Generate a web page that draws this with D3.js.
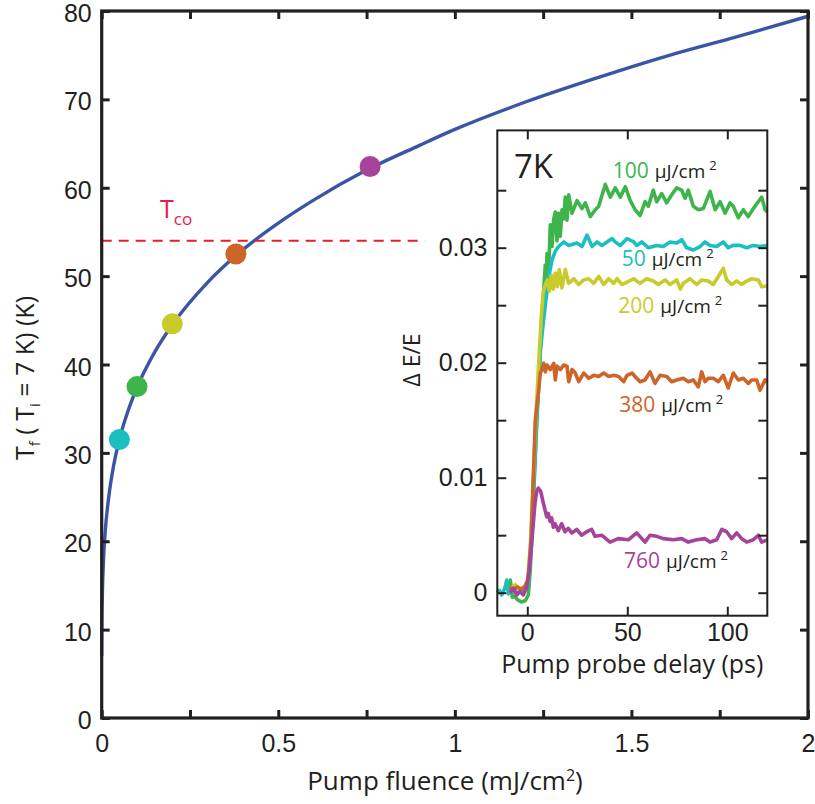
<!DOCTYPE html>
<html>
<head>
<meta charset="utf-8">
<script src="https://cdn.jsdelivr.net/npm/d3@7"></script>
<style>
  html, body { margin: 0; padding: 0; background: #fff; }
  svg { display: block; font-family: "Open Sans", "Noto Sans", sans-serif; }
</style>
</head>
<body>
<svg id="chart" width="815" height="804"></svg>
<script>
// ---- Main panel: final temperature vs pump fluence ----
const fluence = [0, 0.0005, 0.001, 0.002, 0.005, 0.01, 0.02, 0.03, 0.05, 0.075, 0.1, 0.15, 0.2,
                 0.3, 0.4, 0.5, 0.6, 0.75, 0.9, 1.0, 1.2, 1.4, 1.6, 1.8, 2.0];
const tFinal  = [7, 10.5, 12.2, 14.3, 17.8, 21.1, 25.0, 27.7, 31.5, 34.8, 37.4, 41.4, 44.5,
                 49.3, 53.0, 56.0, 58.6, 62.0, 64.8, 66.6, 69.7, 72.4, 74.9, 77.1, 79.4];

const markerFluence = [0.05, 0.1, 0.2, 0.38, 0.76];
const markerTf      = [31.5, 37.5, 44.6, 52.5, 62.4];
const seriesNames   = ["50", "100", "200", "380", "760"];
const seriesColors  = ["#1cbfc0", "#3db54a", "#c9cb2b", "#cd6529", "#a6449b"];

const tCrossover = 54;          // T_co
const tCrossoverEnd = 0.915;    // fluence where the dashed guide stops

const mainXTicks = [0, 0.25, 0.5, 0.75, 1, 1.25, 1.5, 1.75, 2];
const mainXTickLabels = ["0", "", "0.5", "", "1", "", "1.5", "", "2"];
const mainYTicks = [0, 10, 20, 30, 40, 50, 60, 70, 80];

// ---- Inset: transient ΔE/E vs delay (ps) ----
const trace50 = [[-15,0],[-14,0.0002],[-12.8,-0.0002],[-11.2,0.0004],[-10.3,0.0011],[-9.5,-0.0001],[-8.6,0.0001],[-7,0.0002],[-5,0],[-3,0.0002],[-1,0.0003],[0.5,0.0008],[2,0.004],[4,0.012],[5.5,0.018],[6.5,0.021],[8,0.0235],[9,0.025],[10.5,0.0272],[12.3,0.0289],[14,0.0297],[15.7,0.0301],[18.2,0.0305],[20.7,0.0302],[24.85,0.0304],[27.35,0.0301],[29.85,0.0311],[32.35,0.0301],[34.85,0.0305],[37.35,0.0302],[39.85,0.0305],[42.35,0.0308],[44,0.0305],[46.5,0.0302],[49.85,0.0308],[53.2,0.0305],[54.7,0.0302],[57.2,0.0305],[60.5,0.03],[64.7,0.0302],[68,0.0301],[71.35,0.0305],[74.7,0.0304],[77.2,0.0307],[79.7,0.03],[83,0.0298],[86.35,0.0301],[88.85,0.0305],[91.35,0.0302],[94.7,0.0301],[98,0.0305],[100.5,0.03],[103,0.0302],[106.35,0.0302],[109.7,0.03],[113,0.0302],[116.35,0.0301],[120,0.0302]];

const trace100 = [[-9,0.0003],[-8.5,0.0011],[-7.5,-0.0004],[-6,-0.0003],[-5,-0.0006],[-3,-0.0008],[-1,-0.0007],[0.5,-0.0002],[1.5,0.002],[3,0.008],[4.5,0.014],[6,0.019],[7,0.023],[8.2,0.0263],[9,0.0285],[9.5,0.027],[9.85,0.0295],[10.7,0.0281],[11.5,0.032],[12.35,0.0301],[13.2,0.0325],[14,0.0331],[14.85,0.0306],[15.7,0.033],[16.5,0.031],[17.35,0.0333],[18.2,0.0325],[19,0.0344],[19.85,0.0324],[20.7,0.0346],[22.35,0.033],[24.85,0.0341],[27.35,0.0334],[29,0.0339],[31.5,0.0327],[34,0.0333],[35.7,0.0336],[39,0.0355],[41.5,0.0344],[44,0.0352],[46.5,0.0344],[49,0.0353],[51.5,0.0341],[53.9,0.0333],[56.4,0.0328],[58.9,0.034],[60.5,0.0336],[63,0.035],[64.7,0.034],[67.2,0.0347],[69.7,0.0339],[72.2,0.0346],[74.7,0.0352],[77.2,0.035],[78.9,0.0343],[80.5,0.035],[83,0.0336],[85.5,0.0333],[88,0.0334],[91.4,0.0349],[93.9,0.0333],[96.4,0.034],[98.9,0.033],[101.4,0.0339],[103,0.0336],[105.5,0.0326],[108,0.0333],[110.5,0.0327],[113,0.0334],[115.5,0.034],[117.2,0.0344],[118.9,0.0333],[120,0.0331]];

const trace200 = [[-8,0.0004],[-6,0.0007],[-4,0.0003],[-2,0.0004],[0,0.0008],[1.5,0.004],[3,0.01],[4.5,0.016],[6,0.021],[7,0.024],[8,0.0262],[9,0.0268],[10,0.0272],[11,0.0262],[12,0.0276],[13,0.0264],[14,0.0278],[15,0.0266],[16,0.0281],[17.3,0.0265],[19,0.0281],[20.7,0.0269],[23.2,0.0273],[25.7,0.0268],[28.2,0.0272],[30.7,0.0273],[33.2,0.0269],[35.7,0.0275],[38.2,0.0268],[40.7,0.0273],[43.2,0.0269],[44.85,0.0273],[47.35,0.0268],[49.85,0.027],[53.2,0.0273],[56.35,0.0269],[59.7,0.0273],[63,0.0271],[65.5,0.0268],[68.85,0.0272],[71.35,0.0268],[74.7,0.0272],[76.5,0.0264],[78,0.0269],[81.35,0.0273],[84.7,0.0268],[87.2,0.0272],[90.5,0.0271],[93,0.0268],[95.5,0.0275],[98,0.0282],[99.7,0.0272],[102.2,0.0268],[104.7,0.0271],[107.2,0.0268],[109.7,0.0271],[112.2,0.0273],[115.5,0.0272],[117.2,0.0266],[120,0.0267]];

const trace380 = [[-9,0.0005],[-7,0.0002],[-5,0.0005],[-3,0.0003],[-1,0.0006],[0.5,0.0012],[2,0.005],[3,0.01],[4,0.015],[5.7,0.0176],[6.5,0.0191],[7.5,0.0195],[8.2,0.01995],[9,0.0192],[9.85,0.0198],[11.5,0.0194],[13.2,0.01995],[14,0.0185],[14.85,0.0197],[16.5,0.0194],[18.2,0.0198],[19.85,0.0197],[20.7,0.01835],[22.35,0.0194],[24,0.0191],[25.7,0.01835],[28.2,0.0191],[30.7,0.01865],[33.2,0.0189],[35.7,0.0188],[38.2,0.0191],[40.7,0.0188],[43.2,0.0189],[45.7,0.0188],[48.2,0.01835],[49.85,0.0189],[52.35,0.0191],[53.85,0.0188],[56.35,0.01835],[58.85,0.0185],[61.35,0.0192],[63.85,0.0182],[66.35,0.0189],[69.7,0.0188],[72.2,0.01835],[74.7,0.0185],[78,0.01865],[80.5,0.01835],[83,0.0185],[85.5,0.0179],[87.2,0.0192],[88.85,0.01835],[90.5,0.01865],[93,0.01865],[95.5,0.01835],[98,0.0189],[100.5,0.0178],[103,0.0191],[105.5,0.0185],[108,0.01865],[110.5,0.0182],[112.2,0.0185],[114.7,0.0185],[116.35,0.0176],[118.85,0.0185],[120,0.0183]];

const trace760 = [[-8.65,0],[-7,0.0004],[-5.3,-0.0002],[-3.65,0.0001],[-2,-0.0002],[-0.3,0.0005],[0.5,0.0014],[1.35,0.0026],[2.2,0.0043],[3,0.006],[3.85,0.0078],[4.7,0.0088],[5.5,0.0091],[6.7,0.0088],[8,0.0078],[8.85,0.0072],[9.7,0.0066],[10.5,0.0069],[11.35,0.0062],[12.2,0.0065],[13,0.0057],[13.85,0.006],[15.5,0.0054],[17.2,0.006],[18.85,0.0053],[20.5,0.0056],[22.2,0.0052],[24.7,0.0055],[27.2,0.005],[29.7,0.0053],[32.2,0.0055],[33.85,0.0049],[37.2,0.005],[41.35,0.0044],[45.5,0.0047],[50.5,0.0046],[54.7,0.0052],[58.85,0.0044],[61.35,0.005],[64.7,0.0049],[68,0.0047],[73,0.0046],[77.2,0.0047],[80.5,0.0044],[84.7,0.0046],[88.85,0.0047],[91.35,0.0044],[94.7,0.0046],[97.2,0.0055],[99.7,0.0053],[102.2,0.0047],[104.7,0.0052],[107.2,0.0047],[109.7,0.0044],[113,0.0046],[115.5,0.005],[117.2,0.0044],[120,0.0046]];

const insetXTicks = [0, 50, 100];
const insetYTicks = [0, 0.005, 0.01, 0.015, 0.02, 0.025, 0.03, 0.035];
const insetYTickLabels = ["0", "", "0.01", "", "0.02", "", "0.03", ""];

const INK = "#231f20";
const svg = d3.select("#chart");

// ---------------- main panel ----------------
const x = d3.scaleLinear().domain([0, 2]).range([101.7, 808]);
const y = d3.scaleLinear().domain([0, 80]).range([718, 11]);

const main = svg.append("g");

// curve
main.append("path")
  .datum(d3.zip(fluence, tFinal))
  .attr("fill", "none")
  .attr("stroke", "#3a55a5")
  .attr("stroke-width", 3.4)
  .attr("d", d3.line().x(d => x(d[0])).y(d => y(d[1])).curve(d3.curveMonotoneX));

// T_co guide
main.append("line")
  .attr("x1", x(0)).attr("x2", x(tCrossoverEnd))
  .attr("y1", y(tCrossover)).attr("y2", y(tCrossover))
  .attr("stroke", "#ec1c24").attr("stroke-width", 2)
  .attr("stroke-dasharray", "10,7");

const tco = main.append("text")
  .attr("x", 160).attr("y", 218)
  .attr("fill", "#ea1a4d")
  .style("font-size", "25px");
tco.append("tspan").text("T");
tco.append("tspan").attr("dy", 7).style("font-size", "17px").text("co");

// markers
main.selectAll("circle.pt")
  .data(d3.range(markerFluence.length))
  .join("circle")
  .attr("class", "pt")
  .attr("cx", i => x(markerFluence[i]))
  .attr("cy", i => y(markerTf[i]))
  .attr("r", 10.5)
  .attr("fill", i => seriesColors[i]);

// axes (ticks point inward)
function styleAxis(g, width) {
  g.select(".domain").remove();
  g.selectAll(".tick line").attr("stroke", INK).attr("stroke-width", width);
  g.selectAll(".tick text").attr("fill", INK).attr("font-family", null);
}
main.append("g").attr("transform", `translate(0,${y(0)})`)
  .call(d3.axisBottom(x).tickValues(mainXTicks).tickFormat((d, i) => mainXTickLabels[i])
        .tickSizeInner(-8).tickSizeOuter(0).tickPadding(16))
  .call(g => { styleAxis(g, 3); g.selectAll("text").style("font-size", "25px"); });
main.append("g").attr("transform", `translate(0,${y(80)})`)
  .call(d3.axisTop(x).tickValues(mainXTicks).tickFormat("").tickSizeInner(-8).tickSizeOuter(0))
  .call(g => styleAxis(g, 3));
main.append("g").attr("transform", `translate(${x(0)},0)`)
  .call(d3.axisLeft(y).tickValues(mainYTicks).tickFormat(d3.format("d"))
        .tickSizeInner(-8).tickSizeOuter(0).tickPadding(10))
  .call(g => { styleAxis(g, 3); g.selectAll("text").style("font-size", "25px").attr("dy", "0.42em"); });
main.append("g").attr("transform", `translate(${x(2)},0)`)
  .call(d3.axisRight(y).tickValues(mainYTicks).tickFormat("").tickSizeInner(-8).tickSizeOuter(0))
  .call(g => styleAxis(g, 3));

main.append("rect")
  .attr("x", x(0)).attr("y", y(80))
  .attr("width", x(2) - x(0)).attr("height", y(0) - y(80))
  .attr("fill", "none").attr("stroke", INK).attr("stroke-width", 3.2);

// axis titles
const xt = main.append("text")
  .attr("x", 445).attr("y", 790).attr("text-anchor", "middle")
  .attr("fill", INK).style("font-size", "26px");
xt.append("tspan").text("Pump fluence (mJ/cm");
xt.append("tspan").attr("dy", -9).style("font-size", "16px").text("2");
xt.append("tspan").attr("dy", 9).text(")");

const yt = main.append("text")
  .attr("transform", "translate(34,378) rotate(-90)")
  .attr("text-anchor", "middle").attr("fill", INK).style("font-size", "25px");
yt.append("tspan").text("T");
yt.append("tspan").attr("dy", 6).style("font-size", "15px").text("f");
yt.append("tspan").attr("dy", -6).text(" ( T");
yt.append("tspan").attr("dy", 6).style("font-size", "15px").text("i");
yt.append("tspan").attr("dy", -6).text(" = 7 K) (K)");

// ---------------- inset ----------------
const xi = d3.scaleLinear().domain([-15, 120]).range([497.3, 767.3]);
const yi = d3.scaleLinear().domain([-0.002, 0.0402]).range([615.7, 130.4]);

const inset = svg.append("g");
inset.append("rect")
  .attr("x", xi(-15)).attr("y", yi(0.0402))
  .attr("width", xi(120) - xi(-15)).attr("height", yi(-0.002) - yi(0.0402))
  .attr("fill", "#fff");

const traces = [trace50, trace100, trace200, trace380, trace760];
const drawOrder = [1, 0, 2, 3, 4];
const traceLine = d3.line().x(d => xi(d[0])).y(d => yi(d[1]));
inset.selectAll("path.trace")
  .data(drawOrder)
  .join("path")
  .attr("class", "trace")
  .attr("fill", "none")
  .attr("stroke", i => seriesColors[i])
  .attr("stroke-width", 3.6)
  .attr("stroke-linejoin", "round")
  .attr("d", i => traceLine(traces[i]));

inset.append("g").attr("transform", `translate(0,${yi(-0.002)})`)
  .call(d3.axisBottom(xi).tickValues(insetXTicks).tickFormat(d3.format("d"))
        .tickSizeInner(-9).tickSizeOuter(0).tickPadding(8))
  .call(g => { styleAxis(g, 2); g.selectAll("text").style("font-size", "25px"); });
inset.append("g").attr("transform", `translate(0,${yi(0.0402)})`)
  .call(d3.axisTop(xi).tickValues(insetXTicks).tickFormat("").tickSizeInner(-9).tickSizeOuter(0))
  .call(g => styleAxis(g, 2));
inset.append("g").attr("transform", `translate(${xi(-15)},0)`)
  .call(d3.axisLeft(yi).tickValues(insetYTicks).tickFormat((d, i) => insetYTickLabels[i])
        .tickSizeInner(-9).tickSizeOuter(0).tickPadding(10))
  .call(g => { styleAxis(g, 2); g.selectAll("text").style("font-size", "25px"); });
inset.append("g").attr("transform", `translate(${xi(120)},0)`)
  .call(d3.axisRight(yi).tickValues(insetYTicks).tickFormat("").tickSizeInner(-9).tickSizeOuter(0))
  .call(g => styleAxis(g, 2));

inset.append("rect")
  .attr("x", xi(-15)).attr("y", yi(0.0402))
  .attr("width", xi(120) - xi(-15)).attr("height", yi(-0.002) - yi(0.0402))
  .attr("fill", "none").attr("stroke", INK).attr("stroke-width", 2);

inset.append("text")
  .attr("x", 514).attr("y", 178).attr("fill", INK)
  .style("font-size", "33px").text("7K");

inset.append("text")
  .attr("x", (xi(-15) + xi(120)) / 2).attr("y", 673).attr("text-anchor", "middle")
  .attr("fill", INK).style("font-size", "25px").text("Pump probe delay (ps)");

inset.append("text")
  .attr("transform", "translate(420,360) rotate(-90)")
  .attr("text-anchor", "middle").attr("fill", INK)
  .style("font-size", "23px").text("Δ E/E");

// fluence labels inside the inset, anchored in data coordinates
const labelAnchors = [[47.2, 0.0284], [42.7, 0.0361], [45.5, 0.0243], [46.0, 0.01574], [48.35, 0.00212]];
labelAnchors.forEach((a, i) => {
  const t = inset.append("text")
    .attr("x", xi(a[0])).attr("y", yi(a[1]))
    .style("font-size", "21px");
  t.append("tspan").attr("fill", seriesColors[i]).text(seriesNames[i]);
  t.append("tspan").attr("fill", INK).attr("dx", 6).style("font-size", "19px").text("μJ/cm");
  t.append("tspan").attr("fill", INK).attr("dx", 4).attr("dy", -8).style("font-size", "13px").text("2");
});
</script>
</body>
</html>
